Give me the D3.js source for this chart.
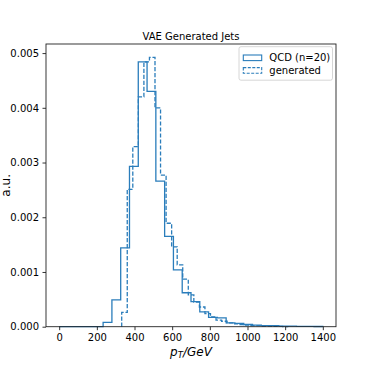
<!DOCTYPE html>
<html>
<head>
<meta charset="utf-8">
<script src="https://cdn.jsdelivr.net/npm/d3@7"></script>
<style>
  body { margin: 0; background: #fff; }
  svg { font-family: "DejaVu Sans", sans-serif; }
</style>
</head>
<body>
<script>
// QCD histogram: 30 bins between 0 and 1400 GeV (density)
var qcdRange = [0, 1400];
var qcdDensity = [0, 0, 0, 0, 0, 0.00008, 0.00049, 0.00144, 0.00293, 0.00484,
                  0.0043, 0.00266, 0.00165, 0.00104, 0.00062, 0.00046, 0.00027, 0.00017, 0.00016, 0.00007,
                  0.00006, 0.00004, 0.00003, 0.00002, 0.00002, 0.00001, 0.00001, 0.000006, 0.000005, 0.000004];

// generated histogram: 30 bins over its own range
var genRange = [332, 1216];
var genDensity = [0.00026, 0.00251, 0.00329, 0.0042, 0.00484, 0.00492, 0.004, 0.00277, 0.00189, 0.00146,
                  0.00113, 0.00087, 0.00058, 0.00045, 0.00036, 0.00024, 0.00018, 0.00012, 0.0001, 0.00007,
                  0.00005, 0.00004, 0.00003, 0.00002, 0.00002, 0.00001, 0.00001, 0.000005, 0.000005, 0.000003];

var xTicks = [0, 200, 400, 600, 800, 1000, 1200, 1400];
var yTicks = [0, 0.001, 0.002, 0.003, 0.004, 0.005];
var legendLabels = ["QCD (n=20)", "generated"];

var blue = "#2a7dbb";

function init(){
  var width = 374, height = 374;
  var margin = {top: 44, right: 38, bottom: 47.3, left: 46};
  var innerW = width - margin.left - margin.right;
  var innerH = height - margin.top - margin.bottom;

  var svg = d3.select("body")
              .append("svg")
              .attr("width", width)
              .attr("height", height);

  var g = svg.append("g")
             .attr("transform", "translate(" + margin.left + "," + margin.top + ")");

  // matplotlib style 5% padding on x, and on the top of y
  var xPad = (qcdRange[1] - qcdRange[0]) * 0.05;
  var yMax = d3.max(qcdDensity.concat(genDensity)) * 1.05;

  var x = d3.scaleLinear()
            .domain([qcdRange[0] - xPad, qcdRange[1] + xPad])
            .range([0, innerW]);
  var y = d3.scaleLinear()
            .domain([0, yMax])
            .range([innerH, 0]);

  // histograms as step outlines
  stepHist(g, x, y, qcdRange, qcdDensity, null);
  stepHist(g, x, y, genRange, genDensity, "4.2,1.8");

  // axes
  var xAxis = g.append("g")
               .attr("transform", "translate(0," + innerH + ")")
               .call(d3.axisBottom(x).tickValues(xTicks).tickSize(3.5).tickPadding(3.5).tickFormat(d3.format("d")));
  var yAxis = g.append("g")
               .call(d3.axisLeft(y).tickValues(yTicks).tickSize(3.5).tickPadding(3.5).tickFormat(d3.format(".3f")));

  [xAxis, yAxis].forEach(function(a){
    a.selectAll("text").attr("font-size", 10).attr("font-family", "DejaVu Sans").attr("fill", "#000");
    a.selectAll(".tick line").attr("stroke", "#000").attr("stroke-width", 0.8);
    a.select(".domain").remove();
  });

  // frame
  g.append("rect")
   .attr("width", innerW)
   .attr("height", innerH)
   .attr("fill", "none")
   .attr("stroke", "#222")
   .attr("stroke-width", 0.9);

  // title
  svg.append("text")
     .attr("x", margin.left + innerW / 2)
     .attr("y", 39.5)
     .attr("text-anchor", "middle")
     .attr("font-size", 10)
     .text("VAE Generated Jets");

  // x label p_T/GeV
  var xl = svg.append("text")
              .attr("x", margin.left + innerW / 2)
              .attr("y", 356)
              .attr("text-anchor", "middle")
              .attr("font-size", 12)
              .attr("font-style", "italic");
  xl.append("tspan").text("p");
  xl.append("tspan").attr("font-size", 8.5).attr("dy", 2).text("T");
  xl.append("tspan").attr("dy", -2).text("/GeV");

  // y label
  svg.append("text")
     .attr("transform", "translate(10," + (margin.top + innerH / 2) + ") rotate(-90)")
     .attr("text-anchor", "middle")
     .attr("font-size", 12)
     .text("a.u.");

  legend(svg);
}

function stepHist(g, x, y, range, dens, dash){
  var n = dens.length;
  var w = (range[1] - range[0]) / n;
  var pts = [[range[0], 0]];
  dens.forEach(function(d, i){
    pts.push([range[0] + i * w, d]);
    pts.push([range[0] + (i + 1) * w, d]);
  });
  pts.push([range[1], 0]);

  var line = d3.line()
               .x(function(d){ return x(d[0]); })
               .y(function(d){ return y(d[1]); });

  g.append("path")
   .attr("d", line(pts))
   .attr("fill", "none")
   .attr("stroke", blue)
   .attr("stroke-width", 1.3)
   .attr("stroke-dasharray", dash);
}

function legend(svg){
  var lg = svg.append("g").attr("transform", "translate(239,46.7)");
  lg.append("rect")
    .attr("width", 93.5)
    .attr("height", 33.5)
    .attr("rx", 2)
    .attr("fill", "#fff")
    .attr("fill-opacity", 0.8)
    .attr("stroke", "#ccc")
    .attr("stroke-width", 0.8);

  legendLabels.forEach(function(lab, i){
    var yy = 8.3 + i * 12.6;
    lg.append("rect")
      .attr("x", 4.3)
      .attr("y", yy)
      .attr("width", 18.4)
      .attr("height", 5.6)
      .attr("fill", "none")
      .attr("stroke", blue)
      .attr("stroke-width", 1.1)
      .attr("stroke-dasharray", i == 1 ? "3,1.5" : null);
    lg.append("text")
      .attr("x", 30.3)
      .attr("y", yy + 6.3)
      .attr("font-size", 10)
      .text(lab);
  });
}

init();
</script>
</body>
</html>
